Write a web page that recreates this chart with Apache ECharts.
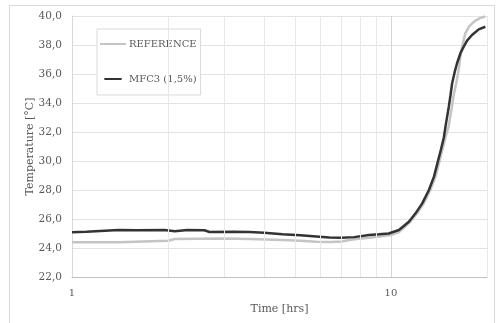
<!DOCTYPE html>
<html><head><meta charset="utf-8">
<script src="https://cdn.jsdelivr.net/npm/echarts@6/dist/echarts.min.js"></script>
<style>html,body{margin:0;padding:0;background:#fff}#c{width:496px;height:323px}</style>
</head><body><div id="c"></div>
<script>
const seriesNames = ['REFERENCE', 'MFC3 (1,5%)'];
const xTickLabels = ['1', '10'];
const minorGridTimes = [2, 3, 4, 5, 6, 7, 8, 9, 20];
const refTime = [1, 1.4, 1.42, 2.0, 2.1, 3.0, 3.6, 4.57, 5.2, 5.83, 6.5, 7.0, 7.67, 8.53, 9.2, 10, 10.6, 11.5, 12.07, 12.67, 13.29, 13.79, 14.13, 14.49, 14.83, 15.16, 15.34, 15.53, 15.72, 16.02, 16.3, 16.6, 17.1, 17.6, 18.3, 19.0, 19.76];
const refTemp = [24.39, 24.4, 24.5, 24.5, 24.62, 24.65, 24.62, 24.55, 24.5, 24.43, 24.42, 24.45, 24.6, 24.7, 24.8, 24.9, 25.1, 25.81, 26.39, 27.08, 28.0, 28.92, 29.84, 30.76, 31.68, 32.37, 33.06, 33.74, 34.55, 35.36, 36.3, 37.6, 38.8, 39.3, 39.65, 39.85, 39.97];
const mfcTime = [1, 1.05, 1.11, 1.12, 1.4, 1.6, 1.95, 2.1, 2.3, 2.6, 2.7, 3.2, 3.6, 4.0, 4.57, 5.2, 5.83, 6.4, 7.0, 7.67, 8.53, 9.17, 9.84, 10.59, 11.38, 11.94, 12.53, 13.15, 13.64, 13.98, 14.33, 14.64, 14.82, 15.0, 15.18, 15.37, 15.55, 15.85, 16.11, 16.51, 16.91, 17.32, 17.95, 18.84, 19.76];
const mfcTemp = [25.08, 25.1, 25.12, 25.22, 25.24, 25.22, 25.24, 25.15, 25.24, 25.22, 25.1, 25.12, 25.1, 25.05, 24.95, 24.88, 24.8, 24.72, 24.7, 24.75, 24.9, 24.95, 25.0, 25.24, 25.81, 26.39, 27.08, 28.0, 28.92, 29.84, 30.76, 31.6, 32.37, 33.06, 33.74, 34.55, 35.36, 36.16, 36.74, 37.43, 37.89, 38.3, 38.69, 39.08, 39.26];

const FONT = 'DejaVu Serif';
const TXT = '#595959';
const chart = echarts.init(document.getElementById('c'), null, {renderer: 'canvas'});
const zip = (a, b) => a.map((v, i) => [v, b[i]]);
chart.setOption({
  animation: false,
  backgroundColor: '#fff',
  graphic: [{type: 'rect', shape: {x: 9.5, y: 5.5, width: 485, height: 330}, style: {fill: 'none', stroke: '#d9d9d9', lineWidth: 1}, silent: true}],
  grid: {left: 72, right: 9, top: 16, bottom: 46},
  legend: {
    orient: 'vertical', left: 97, top: 29, padding: [10, 4, 11, 3],
    backgroundColor: '#fff', borderColor: '#d9d9d9', borderWidth: 1,
    itemWidth: 26, itemHeight: 2, itemGap: 25,
    textStyle: {fontFamily: FONT, fontSize: 10, color: TXT, padding: [0, 0, 0, -2]},
    data: [
      {name: seriesNames[0], icon: 'path://M0,0h26v2h-26z', itemStyle: {color: '#c4c4c4'}},
      {name: seriesNames[1], icon: 'path://M0,0h26v3h-26z', itemStyle: {color: '#333333'}}
    ]
  },
  xAxis: {
    type: 'log', logBase: 10, min: 1, max: 20,
    name: 'Time [hrs]', nameLocation: 'middle', nameGap: 27,
    nameTextStyle: {fontFamily: FONT, fontSize: 11, color: TXT},
    axisLine: {lineStyle: {color: '#bfbfbf'}},
    axisTick: {show: false},
    axisLabel: {fontFamily: FONT, fontSize: 10, color: TXT, margin: 11,
      formatter: v => { const s = String(Math.round(v)); return xTickLabels.includes(s) ? s : ''; }},
    splitLine: {show: true, lineStyle: {color: '#d4d4d4'}}
  },
  yAxis: {
    type: 'value', min: 22, max: 40, interval: 2,
    name: 'Temperature [°C]', nameLocation: 'middle', nameGap: 36, nameRotate: 90, nameMoveOverlap: false,
    nameTextStyle: {fontFamily: FONT, fontSize: 11, color: TXT},
    axisLine: {show: true, lineStyle: {color: '#d9d9d9'}},
    axisTick: {show: false},
    axisLabel: {fontFamily: FONT, fontSize: 10.5, color: TXT, margin: 10, formatter: v => v.toFixed(1).replace('.', ',')},
    splitLine: {lineStyle: {color: '#e3e3e3'}}
  },
  series: [
    {
      name: seriesNames[0], type: 'line', showSymbol: false, symbol: 'none',
      data: zip(refTime, refTemp), lineStyle: {color: '#c4c4c4', width: 2.5}, itemStyle: {color: '#c4c4c4'},
      z: 3,
      markLine: {silent: true, symbol: 'none', label: {show: false},
        lineStyle: {color: '#e8e8e8', width: 1, type: 'solid'},
        data: minorGridTimes.map(t => ({xAxis: t}))}
    },
    {
      name: seriesNames[1], type: 'line', showSymbol: false, symbol: 'none',
      data: zip(mfcTime, mfcTemp), lineStyle: {color: '#333333', width: 2.5}, itemStyle: {color: '#333333'},
      z: 4
    }
  ]
});
</script></body></html>
